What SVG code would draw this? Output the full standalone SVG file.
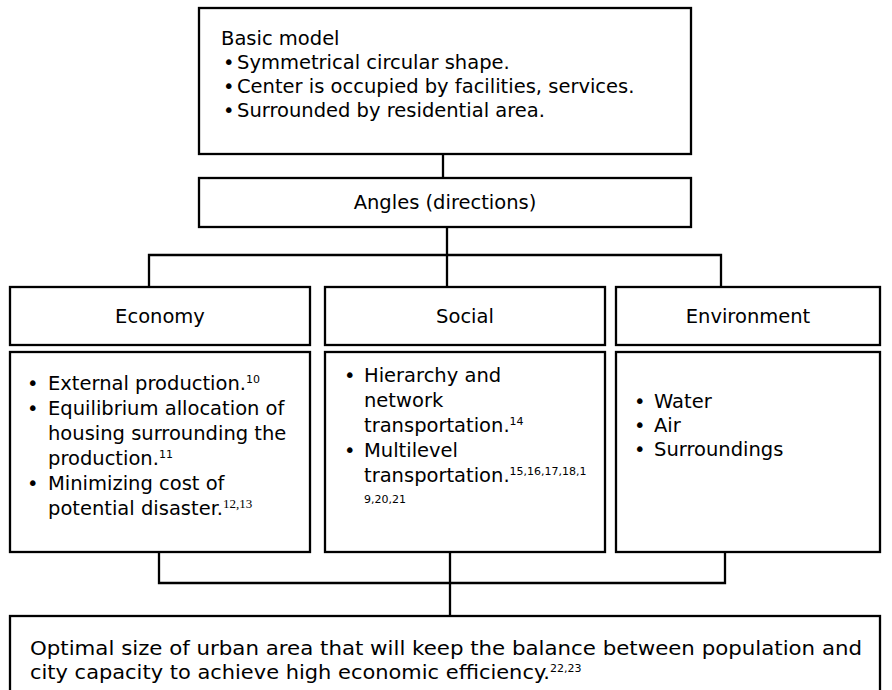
<svg xmlns="http://www.w3.org/2000/svg" width="892" height="690" viewBox="0 0 892 690">
<style>
.box{fill:#fff;stroke:#000;stroke-width:2.3}
.ln{fill:none;stroke:#000;stroke-width:2.3}
text{font-family:"DejaVu Sans","Liberation Sans",sans-serif;font-size:19.5px;fill:#000}
.c{text-anchor:middle}
.sup{font-size:11px}
.supt{font-family:"Liberation Serif",serif;font-size:13px}
</style>
<rect width="892" height="690" fill="#fff"/>
<g id="connectors">
<path class="ln" d="M443 154V178"/>
<path class="ln" d="M447 227V287M149 287V255H721V287"/>
<path class="ln" d="M159 552V583H725V552M450 552V616"/>
</g>
<g id="basic">
<rect class="box" x="199" y="8" width="492" height="146"/>
<text x="221" y="45">Basic model</text>
<text x="223" y="69">•</text><text x="237" y="69">Symmetrical circular shape.</text>
<text x="223" y="93">•</text><text x="237" y="93">Center is occupied by facilities, services.</text>
<text x="223" y="117">•</text><text x="237" y="117">Surrounded by residential area.</text>
</g>
<g id="angles">
<rect class="box" x="199" y="178" width="492" height="49"/>
<text class="c" x="445" y="209">Angles (directions)</text>
</g>
<g id="economy">
<rect class="box" x="10" y="287" width="300" height="58"/>
<text class="c" x="160" y="323">Economy</text>
</g>
<g id="social">
<rect class="box" x="325" y="287" width="280" height="58"/>
<text class="c" x="465" y="323">Social</text>
</g>
<g id="environment">
<rect class="box" x="616" y="287" width="264" height="58"/>
<text class="c" x="748" y="323">Environment</text>
</g>
<g id="economy-detail">
<rect class="box" x="10" y="352" width="300" height="200"/>
<text x="27" y="390">•</text><text x="48" y="390">External production.<tspan class="sup" dy="-7">10</tspan></text>
<text x="27" y="415">•</text><text x="48" y="415">Equilibrium allocation of</text>
<text x="48" y="440">housing surrounding the</text>
<text x="48" y="465">production.<tspan class="sup" dy="-7">11</tspan></text>
<text x="27" y="490">•</text><text x="48" y="490">Minimizing cost of</text>
<text x="48" y="515">potential disaster.<tspan class="supt" dy="-7">12,13</tspan></text>
</g>
<g id="social-detail">
<rect class="box" x="325" y="352" width="280" height="200"/>
<text x="344" y="382">•</text><text x="364" y="382">Hierarchy and</text>
<text x="364" y="407">network</text>
<text x="364" y="432">transportation.<tspan class="sup" dy="-7">14</tspan></text>
<text x="344" y="457">•</text><text x="364" y="457">Multilevel</text>
<text x="364" y="482">transportation.<tspan class="sup" dy="-7">15,16,17,18,1</tspan></text>
<text class="sup" x="364" y="503">9,20,21</text>
</g>
<g id="environment-detail">
<rect class="box" x="616" y="352" width="264" height="200"/>
<text x="634" y="408">•</text><text x="654" y="408">Water</text>
<text x="634" y="432">•</text><text x="654" y="432">Air</text>
<text x="634" y="456">•</text><text x="654" y="456">Surroundings</text>
</g>
<g id="result">
<rect class="box" x="10" y="616" width="870" height="90"/>
<text x="30" y="655" textLength="832" lengthAdjust="spacingAndGlyphs">Optimal size of urban area that will keep the balance between population and</text>
<text x="30" y="679"><tspan textLength="520" lengthAdjust="spacingAndGlyphs">city capacity to achieve high economic efficiency.</tspan><tspan class="sup" dy="-7">22,23</tspan></text>
</g>
</svg>
